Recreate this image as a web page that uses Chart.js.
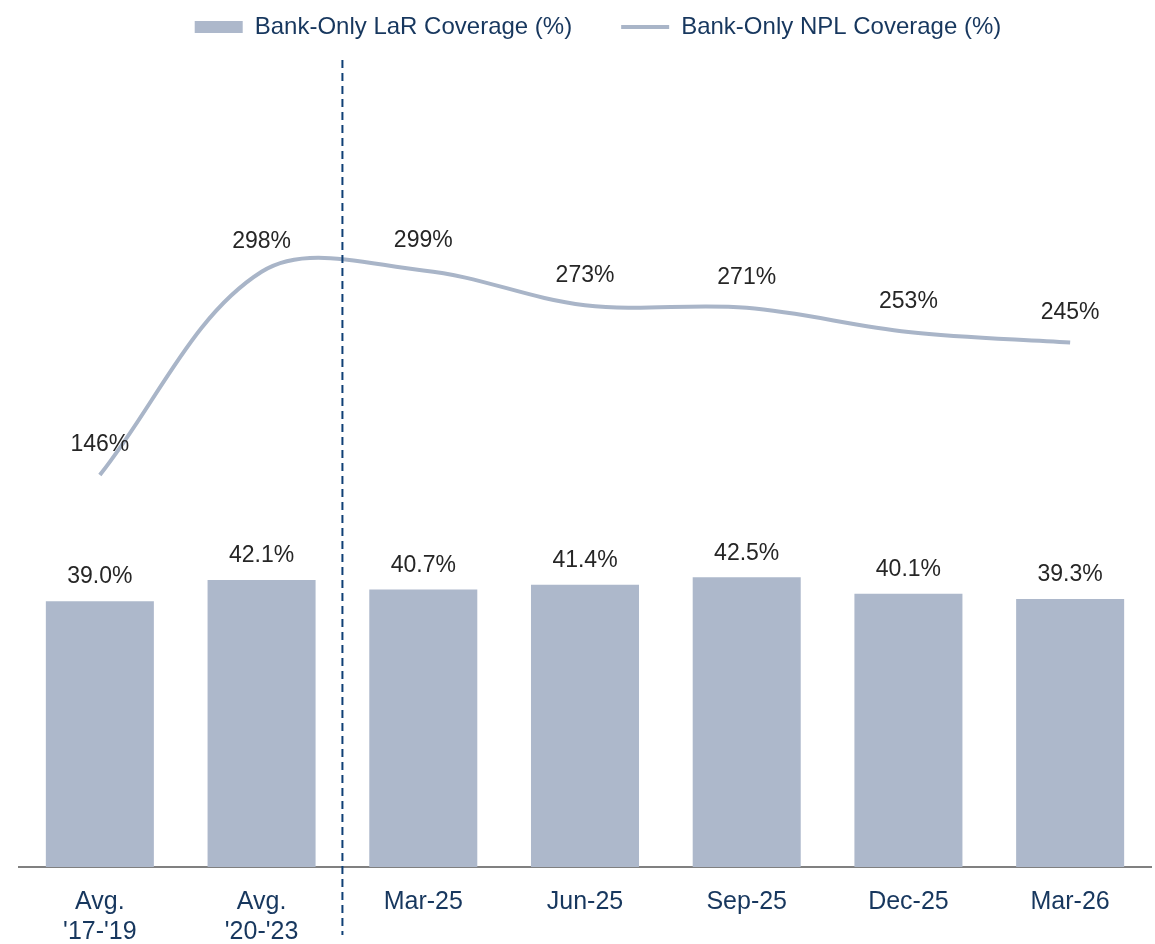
<!DOCTYPE html>
<html>
<head>
<meta charset="utf-8">
<script src="https://cdn.jsdelivr.net/npm/chart.js@4/dist/chart.umd.min.js"></script>
<style>
  html, body { margin: 0; padding: 0; background: #ffffff; }
  #wrap { width: 1155px; height: 944px; position: relative; }
</style>
</head>
<body>
<div id="wrap"><canvas id="c" width="1155" height="944"></canvas></div>
<script>
// ---- Data ----
const categories = [["Avg.", "'17-'19"], ["Avg.", "'20-'23"], "Mar-25", "Jun-25", "Sep-25", "Dec-25", "Mar-26"];
const larCoverage = [39.0, 42.1, 40.7, 41.4, 42.5, 40.1, 39.3];
const nplCoverage = [146, 298, 299, 273, 271, 253, 245];
const seriesNames = ["Bank-Only LaR Coverage (%)", "Bank-Only NPL Coverage (%)"];

// ---- Styles ----
const BAR_COLOR = '#adb8cb';
const LINE_COLOR = '#a9b5c8';
const NAVY = '#17375e';
const LABEL_COLOR = '#262626';
const FONT = '"Liberation Sans", Arial, Helvetica, sans-serif';

const dataLabels = {
  id: 'dataLabels',
  afterDatasetsDraw(chart) {
    const ctx = chart.ctx;
    ctx.save();
    ctx.font = '23px ' + FONT;
    ctx.fillStyle = LABEL_COLOR;
    ctx.textAlign = 'center';
    ctx.textBaseline = 'middle';
    const barMeta = chart.getDatasetMeta(0);
    barMeta.data.forEach((el, i) => {
      ctx.fillText(larCoverage[i].toFixed(1) + '%', el.x, el.y - 24);
    });
    const lineMeta = chart.getDatasetMeta(1);
    lineMeta.data.forEach((el, i) => {
      ctx.fillText(nplCoverage[i] + '%', el.x, el.y - 30);
    });
    ctx.restore();
  }
};

const divider = {
  id: 'divider',
  afterDatasetsDraw(chart) {
    const xs = chart.scales.x;
    const area = chart.chartArea;
    const x = (xs.getPixelForValue(1) + xs.getPixelForValue(2)) / 2;
    const ctx = chart.ctx;
    ctx.save();
    ctx.strokeStyle = '#0f3f75';
    ctx.lineWidth = 2;
    ctx.setLineDash([8, 5]);
    ctx.beginPath();
    ctx.moveTo(x, area.top + 11);
    ctx.lineTo(x, area.bottom + 68);
    ctx.stroke();
    ctx.restore();
  }
};

const legendShift = {
  id: 'legendShift',
  afterLayout(chart) {
    if (chart.legend) {
      chart.legend.left += 13;
      chart.legend.right += 13;
    }
  }
};

const defaultGen = Chart.defaults.plugins.legend.labels.generateLabels;

new Chart(document.getElementById('c'), {
  type: 'bar',
  data: {
    labels: categories,
    datasets: [
      {
        type: 'bar',
        label: seriesNames[0],
        data: larCoverage,
        backgroundColor: BAR_COLOR,
        borderWidth: 0,
        categoryPercentage: 1.0,
        barPercentage: 0.668,
        yAxisID: 'y'
      },
      {
        type: 'line',
        label: seriesNames[1],
        data: nplCoverage,
        borderColor: LINE_COLOR,
        backgroundColor: LINE_COLOR,
        borderWidth: 4,
        tension: 0.35,
        pointRadius: 0,
        pointHoverRadius: 0,
        fill: false,
        yAxisID: 'y2'
      }
    ]
  },
  options: {
    responsive: false,
    animation: false,
    layout: { padding: { left: 19, right: 4, top: -34, bottom: 0 } },
    plugins: {
      tooltip: { enabled: false },
      legend: {
        position: 'top',
        labels: {
          usePointStyle: true,
          pointStyleWidth: 48,
          boxHeight: 12,
          padding: 49,
          color: NAVY,
          font: { family: FONT, size: 24 },
          generateLabels(chart) {
            const items = defaultGen(chart);
            items.forEach(it => {
              if (it.datasetIndex === 0) {
                it.pointStyle = 'rect';
                it.fillStyle = BAR_COLOR;
                it.lineWidth = 0;
                it.strokeStyle = BAR_COLOR;
              } else {
                it.pointStyle = 'line';
                it.lineWidth = 4;
                it.strokeStyle = LINE_COLOR;
                it.fillStyle = LINE_COLOR;
              }
            });
            return items;
          }
        }
      }
    },
    scales: {
      x: {
        grid: { display: false, drawTicks: false },
        border: { display: true, color: '#808080', width: 2 },
        ticks: {
          color: NAVY,
          font: { family: FONT, size: 25, lineHeight: 1.2 },
          padding: 20,
          maxRotation: 0,
          autoSkip: false
        },
        afterFit(scale) { scale.height = 77; }
      },
      y: {
        display: false,
        min: 0,
        max: 120
      },
      y2: {
        display: false,
        position: 'right',
        min: -147.2,
        max: 464.6
      }
    }
  },
  plugins: [dataLabels, divider, legendShift]
});
</script>
</body>
</html>
